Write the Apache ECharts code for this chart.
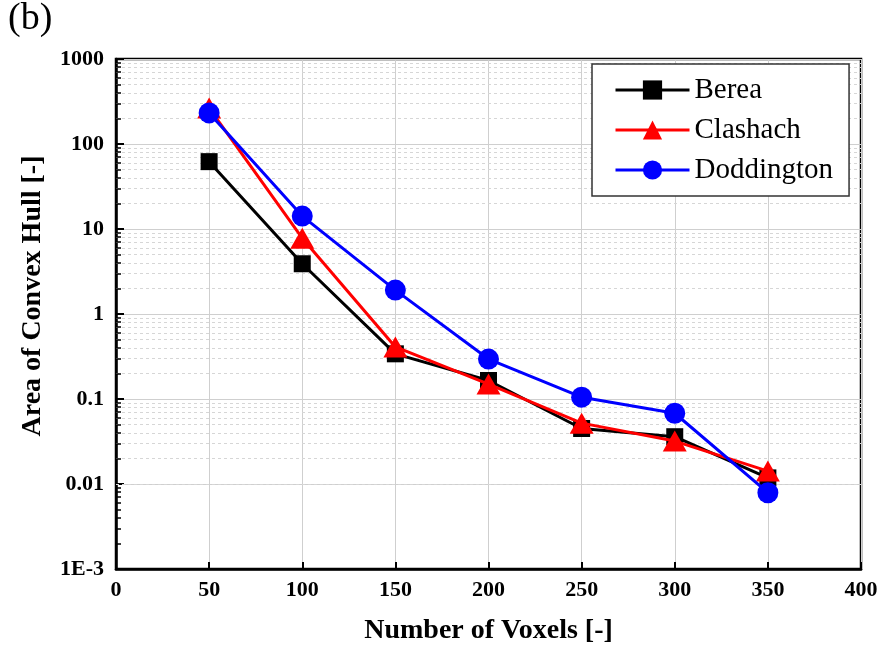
<!DOCTYPE html>
<html>
<head>
<meta charset="utf-8">
<script src="https://cdn.jsdelivr.net/npm/echarts@6/dist/echarts.min.js"></script>
<style>html,body{margin:0;padding:0;background:#fff}#c{width:880px;height:648px}</style>
</head>
<body>
<div id="c"></div>
<script>
const voxels = [50, 100, 150, 200, 250, 300, 350];
const berea = [62, 3.9, 0.34, 0.165, 0.045, 0.036, 0.0118];
const clashach = [265, 7.8, 0.41, 0.15, 0.052, 0.032, 0.0142];
const doddington = [232, 14.2, 1.91, 0.295, 0.105, 0.068, 0.0079];
const xTicks = [0, 50, 100, 150, 200, 250, 300, 350, 400];
const yTicks = [0.001, 0.01, 0.1, 1, 10, 100, 1000];
const yTickLabels = ['1E-3', '0.01', '0.1', '1', '10', '100', '1000'];
const minorMultipliers = [2, 3, 4, 5, 6, 7, 8, 9];
const decades = [0.001, 0.01, 0.1, 1, 10, 100];

const FONT = '"Liberation Serif", "Times New Roman", serif';
const minorVals = [];
decades.forEach(d => minorMultipliers.forEach(m => minorVals.push(+(d * m).toPrecision(6))));

function pair(arr) { return arr.map((v, i) => [voxels[i], v]); }

function labelFor(v) {
  for (let i = 0; i < yTicks.length; i++) {
    if (Math.abs(Math.log10(v) - Math.log10(yTicks[i])) < 1e-6) return yTickLabels[i];
  }
  return '';
}

const chart = echarts.init(document.getElementById('c'), null, {renderer: 'canvas'});
chart.setOption({
  animation: false,
  backgroundColor: '#fff',
  graphic: [{
    type: 'text', left: 8, top: 0,
    style: {text: '(b)', font: '38px ' + FONT, fill: '#000'}
  }, {
    type: 'text', x: 33, y: 296, rotation: Math.PI / 2,
    style: {text: 'Area of Convex Hull [-]', font: 'bold 28px ' + FONT, fill: '#000', align: 'center', verticalAlign: 'middle'}
  }],
  grid: {left: 116, right: 19, top: 59, bottom: 79, containLabel: false, outerBoundsMode: 'none',
         show: true, borderColor: '#000', borderWidth: 2.5, backgroundColor: 'transparent'},
  legend: {
    left: 592, top: 64, orient: 'vertical',
    padding: [10, 16, 10, 22],
    itemGap: 8, itemWidth: 74, itemHeight: 24,
    borderColor: '#333', borderWidth: 1.5, backgroundColor: '#fff',
    lineStyle: {width: 3},
    textStyle: {fontFamily: FONT, fontSize: 29, color: '#000', lineHeight: 32},
    data: ['Berea', 'Clashach', 'Doddington']
  },
  xAxis: {
    type: 'value', min: 0, max: 400, interval: 50,
    name: 'Number of Voxels [-]', nameLocation: 'middle', nameGap: 48,
    nameTextStyle: {fontFamily: FONT, fontSize: 28, fontWeight: 'bold', color: '#000'},
    axisLine: {show: true, onZero: false, lineStyle: {color: '#000', width: 2.5}},
    axisTick: {show: true, inside: true, length: 7, lineStyle: {color: '#000', width: 2}},
    axisLabel: {fontFamily: FONT, fontSize: 22, fontWeight: 'bold', color: '#000', margin: 10},
    splitLine: {show: true, lineStyle: {color: '#cfcfcf', width: 1}}
  },
  yAxis: {
    type: 'log', logBase: 10, min: 0.001, max: 1000,
    axisLine: {show: true, onZero: false, lineStyle: {color: '#000', width: 2.5}},
    axisTick: {show: true, inside: true, length: 8, lineStyle: {color: '#000', width: 2}},
    axisLabel: {fontFamily: FONT, fontSize: 22, fontWeight: 'bold', color: '#000', margin: 12, formatter: labelFor},
    splitLine: {show: true, lineStyle: {color: '#cfcfcf', width: 1}}
  },
  series: [
    {
      name: 'Berea', type: 'line', data: pair(berea),
      symbol: 'rect', symbolSize: 17, color: '#000',
      lineStyle: {width: 3, color: '#000'}, itemStyle: {color: '#000'}, z: 3,
      markLine: {
        silent: true, symbol: 'none', animation: false, z: 1,
        label: {show: false},
        emphasis: {disabled: true},
        lineStyle: {color: '#d6d6d6', width: 1, type: [3, 3]},
        data: minorVals.map(v => ({yAxis: v}))
      }
    },
    {
      name: 'Clashach', type: 'line', data: pair(clashach),
      symbol: 'triangle', symbolSize: [24, 21], color: '#ff0000',
      lineStyle: {width: 3, color: '#ff0000'}, itemStyle: {color: '#ff0000'}, z: 4,
      markLine: {
        silent: true, symbol: 'none', animation: false, z: 1,
        label: {show: false},
        emphasis: {disabled: true},
        lineStyle: {color: '#000', width: 1.5, type: 'solid'},
        data: minorVals.map(v => [{coord: [0, v]}, {coord: [2.7, v]}])
      }
    },
    {
      name: 'Doddington', type: 'line', data: pair(doddington),
      symbol: 'circle', symbolSize: 21, color: '#0000ff',
      lineStyle: {width: 3, color: '#0000ff'}, itemStyle: {color: '#0000ff'}, z: 5
    }
  ]
});
</script>
</body>
</html>
